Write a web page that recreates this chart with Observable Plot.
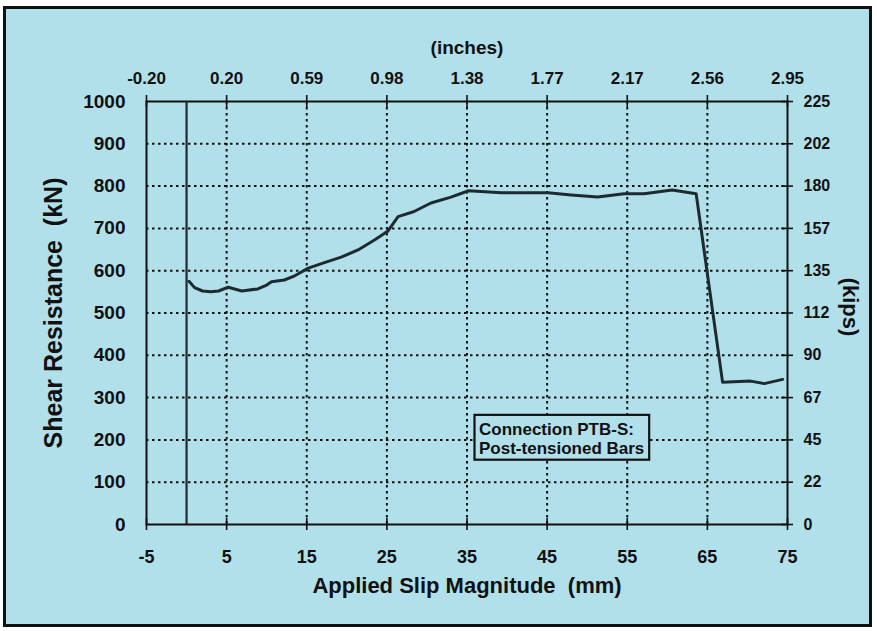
<!DOCTYPE html>
<html>
<head>
<meta charset="utf-8">
<script src="https://cdn.jsdelivr.net/npm/d3@7"></script>
<script src="https://cdn.jsdelivr.net/npm/@observablehq/plot@0.6"></script>
<style>
  html, body { margin: 0; padding: 0; background: #ffffff; }
  #wrap { position: relative; width: 877px; height: 631px; overflow: hidden; }
  #panel { position: absolute; left: 3px; top: 6px; width: 863px; height: 615px; border: 3px solid #111; background: #b2e0ea; }
  #chart { position: absolute; left: 0; top: 0; }
</style>
</head>
<body>
<div id="wrap"><div id="panel"></div><div id="chart"></div></div>
<script>
// Tick values / labels
const mmTicks = [-5, 5, 15, 25, 35, 45, 55, 65, 75];
const inchLabels = ["-0.20", "0.20", "0.59", "0.98", "1.38", "1.77", "2.17", "2.56", "2.95"];
const kNTicks = [0, 100, 200, 300, 400, 500, 600, 700, 800, 900, 1000];
const kipLabels = ["0", "22", "45", "67", "90", "112", "135", "157", "180", "202", "225"];

// Series: applied slip (mm) vs shear resistance (kN)
const slip = [0.3, 1.0, 2.0, 3.0, 4.0, 5.2, 6.9, 8.9, 10.0, 10.6, 12.2, 13.5, 15.2, 17.2, 19.3, 21.4, 23.5, 25.1, 26.4, 28.4, 30.5, 33.0, 35.2, 39.3, 45.1, 48.0, 51.3, 54.6, 57.1, 60.6, 63.6, 66.9, 70.4, 72.1, 74.4];
const shear = [575, 560, 552, 550, 552, 561, 552, 557, 566, 574, 578, 588, 606, 619, 632, 649, 673, 693, 728, 740, 760, 774, 789, 784, 784, 779, 774, 782, 782, 791, 782, 336, 339, 333, 343];

// Vertical reference line at zero slip
const zeroSlip = [0];

// Annotation
const noteText = "Connection PTB-S:\nPost-tensioned Bars";
const noteBox = [{x1: 36.0, x2: 57.8, y1: 152, y2: 258}];
const notePos = [{x: 36.5, y: 204}];

const data = slip.map((s, i) => ({slip: s, shear: shear[i]}));
const innerX = mmTicks.slice(1, -1);
const innerY = kNTicks.slice(1, -1);

const font = "'Liberation Sans', Arial, Helvetica, sans-serif";
const ink = "#111";
const W = 877, H = 631, mL = 146, mR = 90, mT = 101, mB = 107;
const xMin = mmTicks[0], xMax = mmTicks[mmTicks.length - 1];
const yMin = kNTicks[0], yMax = kNTicks[kNTicks.length - 1];
// half tick length (6 px) expressed in each scale's units
const tickHalfY = 6 * (yMax - yMin) / (H - mT - mB);
const tickHalfX = 6 * (xMax - xMin) / (W - mL - mR);

const chart = Plot.plot({
  width: W,
  height: H,
  marginLeft: mL,
  marginRight: mR,
  marginTop: mT,
  marginBottom: mB,
  style: {background: "transparent", fontFamily: font, fontWeight: "bold", color: ink, overflow: "visible"},
  x: {domain: [xMin, xMax], ticks: mmTicks},
  y: {domain: [yMin, yMax], ticks: kNTicks},
  marks: [
    Plot.gridX(innerX, {stroke: ink, strokeOpacity: 1, strokeWidth: 2, strokeDasharray: "2.5,3.5"}),
    Plot.gridY(innerY, {stroke: ink, strokeOpacity: 1, strokeWidth: 2, strokeDasharray: "2.5,3.5"}),
    Plot.frame({stroke: ink, strokeWidth: 2}),
    // crossing tick marks
    Plot.ruleX(mmTicks, {y1: yMin - tickHalfY, y2: yMin + tickHalfY, stroke: ink, strokeWidth: 1.6}),
    Plot.ruleX(mmTicks, {y1: yMax - tickHalfY, y2: yMax + tickHalfY, stroke: ink, strokeWidth: 1.6}),
    Plot.ruleY(kNTicks, {x1: xMax - tickHalfX, x2: xMax + tickHalfX, stroke: ink, strokeWidth: 1.6}),
    // tick labels
    Plot.axisX(mmTicks, {anchor: "bottom", tickSize: 0, tickPadding: 26, fontSize: 18, fill: ink, label: null, tickFormat: d => String(d)}),
    Plot.axisX(mmTicks, {anchor: "top", tickSize: 0, tickPadding: 18, fontSize: 17, fill: ink, label: null, tickFormat: d => inchLabels[mmTicks.indexOf(d)]}),
    Plot.axisY(kNTicks, {anchor: "left", tickSize: 0, tickPadding: 21, fontSize: 19, fill: ink, label: null, tickFormat: d => String(d)}),
    Plot.axisY(kNTicks, {anchor: "right", tickSize: 0, tickPadding: 16, fontSize: 16, fill: ink, label: null, tickFormat: d => kipLabels[kNTicks.indexOf(d)]}),
    // data
    Plot.ruleX(zeroSlip, {y1: yMin, y2: yMax, stroke: "#1d2b30", strokeWidth: 2.2}),
    Plot.line(data, {x: "slip", y: "shear", stroke: "#1d2b30", strokeWidth: 3, strokeLinejoin: "round"}),
    // annotation
    Plot.rect(noteBox, {x1: "x1", x2: "x2", y1: "y1", y2: "y2", fill: "#b2e0ea", stroke: ink, strokeWidth: 2.2}),
    Plot.text(notePos, {x: "x", y: "y", text: () => noteText, textAnchor: "start", lineAnchor: "middle", lineHeight: 1.12, fontSize: 17, fontWeight: "bold", fill: ink}),
    // axis titles
    Plot.text(["Applied Slip Magnitude  (mm)"], {frameAnchor: "bottom", textAnchor: "middle", dy: 61, lineAnchor: "middle", fontSize: 22, fontWeight: "bold", fill: ink}),
    Plot.text(["(inches)"], {frameAnchor: "top", textAnchor: "middle", dy: -54, lineAnchor: "middle", fontSize: 19, fontWeight: "bold", fill: ink}),
    Plot.text(["Shear Resistance  (kN)"], {frameAnchor: "left", textAnchor: "middle", dx: -93, rotate: -90, lineAnchor: "middle", fontSize: 25, fontWeight: "bold", fill: ink}),
    Plot.text(["(kips)"], {frameAnchor: "right", textAnchor: "middle", dx: 63, dy: -6, rotate: 90, lineAnchor: "middle", fontSize: 22, fontWeight: "bold", fill: ink})
  ]
});
document.getElementById("chart").appendChild(chart);
</script>
</body>
</html>
